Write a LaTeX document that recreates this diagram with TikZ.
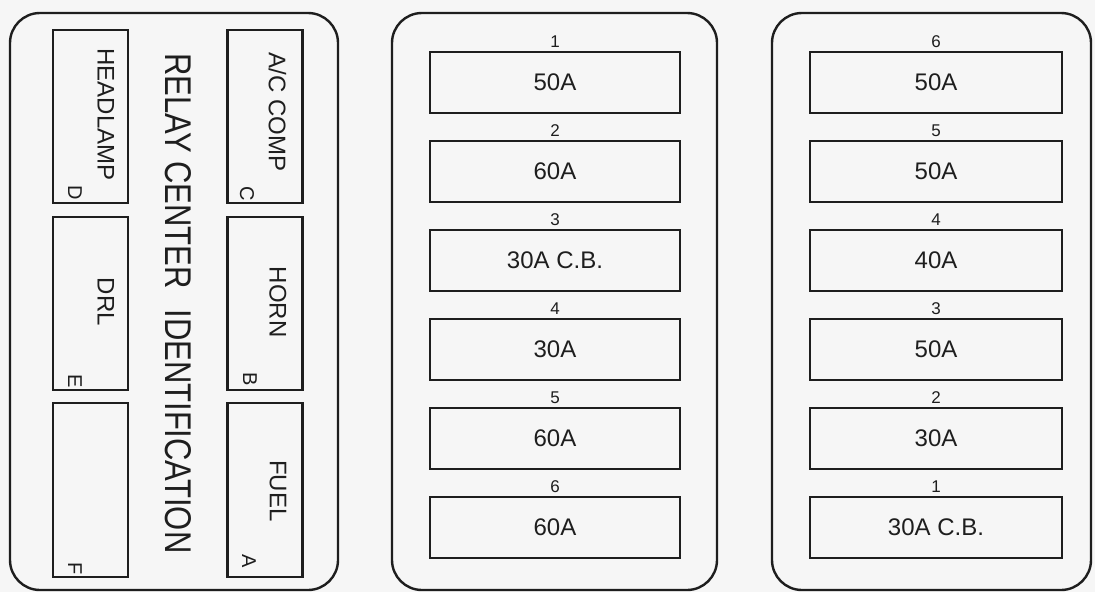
\documentclass[tikz,border=0pt]{standalone}
\usepackage{fontspec}
\setmainfont{Liberation Sans}
\usepackage{graphicx}
\usetikzlibrary{positioning, calc}
\definecolor{paper}{RGB}{246,246,246}
\definecolor{ink}{RGB}{30,30,30}

\begin{document}
\begin{tikzpicture}[
    x=1pt, y=-1pt,
    panel/.style={draw=ink, line width=2.4pt, rounded corners=30pt},
    relay/.style={draw=ink, line width=2.2pt, minimum width=75pt, minimum height=173pt, inner sep=0pt},
    fuse/.style={draw=ink, line width=2.2pt, minimum height=61pt, inner sep=0pt, text=ink, font=\fontsize{24}{24}\selectfont},
    fusenum/.style={inner sep=0pt, text=ink, font=\fontsize{17}{17}\selectfont},
    rtext/.style={rotate=-90, inner sep=0pt, text=ink, font=\fontsize{24}{24}\selectfont},
    rletter/.style={rotate=-90, inner sep=0pt, text=ink, font=\fontsize{20}{20}\selectfont}
]
\fill[paper] (0,0) rectangle (1095,592);
\useasboundingbox (0,0) rectangle (1095,592);

% Panels
\node[panel, minimum width=328pt, minimum height=577pt] (relaypanel) at (174,301.5) {};
\node[panel, minimum width=325pt, minimum height=577pt] (fusepanelA) at (554.5,301.5) {};
\node[panel, minimum width=319pt, minimum height=577pt] (fusepanelB) at (931.5,301.5) {};

% Relay center
\node[relay] (D) at (90.5,116.5) {};
\node[relay] (C) at (265,116.5) {};
\node[relay] (E) at (90.5,303.5) {};
\node[relay] (B) at (265,303.5) {};
\node[relay, minimum height=174pt] (F) at (90.5,490) {};
\node[relay, minimum height=174pt] (A) at (265,490) {};

\node[rtext] (Dname) at ($(D.center)+(15.5,-2)$) {HEADLAMP};
\node[rtext] (Cname) at ($(C.center)+(12.5,-4.5)$) {A/C COMP};
\node[rtext] (Ename) at ($(E.center)+(15.5,-1.5)$) {DRL};
\node[rtext] (Bname) at ($(B.center)+(13,-1.5)$) {HORN};
\node[rtext] (Aname) at ($(A.center)+(13,1)$) {FUEL};

\node[rletter] (Dlet) at ($(D.south)+(-15.5,-11)$) {D};
\node[rletter] (Clet) at ($(C.south)+(-18,-10)$) {C};
\node[rletter] (Elet) at ($(E.south)+(-15.5,-10)$) {E};
\node[rletter] (Blet) at ($(B.south)+(-15,-12)$) {B};
\node[rletter] (Flet) at ($(F.south)+(-15.5,-10)$) {F};
\node[rletter] (Alet) at ($(A.south)+(-16,-17)$) {A};

\node[rotate=-90, inner sep=0pt, text=ink, font=\fontsize{31}{31}\selectfont] (title) at (178,303.5)
    {\scalebox{1}[1.2]{RELAY CENTER\hspace{0.66em}IDENTIFICATION}};

% Fuse block, middle
\foreach \amp [count=\k] in {50A,60A,30A C.B.,30A,60A,60A} {
    \node[fuse, minimum width=250pt] (m\k) at (555,{82.5+89*(\k-1)}) {\amp};
    \node[fusenum, above=3pt of m\k] (mn\k) {\k};
}

% Fuse block, right
\foreach \num/\amp [count=\k] in {6/50A,5/50A,4/40A,3/50A,2/30A,1/30A C.B.} {
    \node[fuse, minimum width=252pt] (r\k) at (936,{82.5+89*(\k-1)}) {\amp};
    \node[fusenum, above=3pt of r\k] (rn\k) {\num};
}

\end{tikzpicture}
\end{document}
